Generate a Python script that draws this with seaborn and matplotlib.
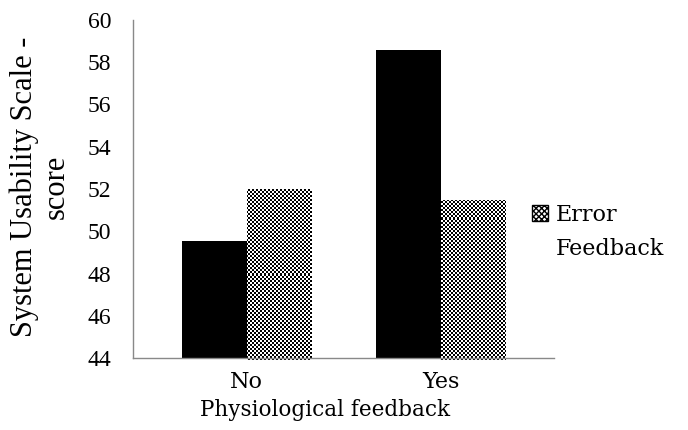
import numpy as np
import pandas as pd
import matplotlib
matplotlib.use("Agg")
import matplotlib.pyplot as plt
from matplotlib.patches import Rectangle
import seaborn as sns

# Mean SUS scores by physiological feedback and error feedback condition
physio_levels = ["No", "Yes"]
error_levels = ["No Error Feedback", "Error Feedback"]
sus_no_error = [49.55, 58.6]
sus_error = [52.0, 51.5]
y_ticks = [44, 46, 48, 50, 52, 54, 56, 58, 60]

df = pd.DataFrame({
    "Physiological feedback": physio_levels * 2,
    "Condition": [error_levels[0]] * 2 + [error_levels[1]] * 2,
    "SUS": sus_no_error + sus_error,
})

sns.set_style("white")
plt.rcParams["text.color"] = "black"
plt.rcParams["xtick.color"] = "black"
plt.rcParams["ytick.color"] = "black"
serif_t = ["Liberation Serif", "DejaVu Serif"]
serif_c = ["DejaVu Serif"]
grey = "#898989"

fig = plt.figure(figsize=(6.88, 4.30), dpi=100)
W, H = 688, 430
ax = fig.add_axes([133 / W, 1 - 358 / H, (554 - 133) / W, (358 - 20) / H])

sns.barplot(data=df, x="Physiological feedback", y="SUS", hue="Condition",
            hue_order=error_levels, order=physio_levels,
            palette=["black", "white"], saturation=1, width=0.668,
            linewidth=0, legend=False, ax=ax)

ax.set_ylim(44, 60)
ax.set_xlim(-0.585, 1.58)
ax.set_yticks(y_ticks)
ax.set_yticklabels([str(t) for t in y_ticks], fontfamily=serif_t, fontsize=17,
                   color="black")
ax.tick_params(axis="y", direction="out", length=4.5, width=1, color=grey, pad=11)
ax.tick_params(axis="x", length=0, pad=9)
for lbl in ax.get_xticklabels():
    lbl.set_fontfamily(serif_c)
    lbl.set_fontsize(16)
    lbl.set_color("black")

for side in ("top", "right"):
    ax.spines[side].set_visible(False)
for side in ("left", "bottom"):
    ax.spines[side].set_color(grey)
    ax.spines[side].set_linewidth(1)
ax.grid(False)

ax.set_ylabel("System Usability Scale -\nscore", fontfamily=serif_t, fontsize=22,
              linespacing=1.1, color="black")
ax.yaxis.set_label_coords(-0.148, 0.507)
ax.set_xlabel("Physiological feedback", fontfamily=serif_c, fontsize=15.5,
              color="black")
ax.xaxis.set_label_coords(0.456, -0.12)

# Fine checkerboard texture (2 px cells, snapped to the pixel grid),
# clipped to each error-feedback bar
fig.canvas.draw()
n_groups = len(physio_levels)
checker_patches = ax.patches[n_groups:2 * n_groups]
y0_lim = ax.get_ylim()[0]
inv = ax.transData.inverted()
for p in checker_patches:
    x0, x1 = p.get_x(), p.get_x() + p.get_width()
    y1 = p.get_y() + p.get_height()
    y0 = max(p.get_y(), y0_lim)
    (px0, py0), (px1, py1) = ax.transData.transform([(x0, y0), (x1, y1)])
    qx0, qy0 = np.floor(px0) - 2, np.floor(py0) - 2
    nx = int(np.ceil((px1 - qx0) / 2)) + 1
    ny = int(np.ceil((py1 - qy0) / 2)) + 1
    qx1, qy1 = qx0 + 2 * nx, qy0 + 2 * ny
    (dx0, dy0), (dx1, dy1) = inv.transform([(qx0, qy0), (qx1, qy1)])
    grid = (np.indices((ny, nx)).sum(axis=0) % 2).astype(float)
    im = ax.imshow(grid, extent=[dx0, dx1, dy0, dy1], cmap="gray", vmin=0, vmax=1,
                   interpolation="nearest", aspect="auto", zorder=p.get_zorder() + 0.1)
    im.set_clip_path(p)
ax.set_xlim(-0.585, 1.58)
ax.set_ylim(44, 60)

# Legend entry for the error-feedback series
sw = Rectangle((532 / W, 1 - 221 / H), 16 / W, 16 / H, transform=fig.transFigure,
               facecolor="white", edgecolor="black", hatch="xxxxxx", linewidth=1)
fig.patches.append(sw)
fig.text(556 / W, 1 - 221 / H, "Error", fontfamily=serif_c, fontsize=16,
         va="baseline", ha="left")
fig.text(556 / W, 1 - 255 / H, "Feedback", fontfamily=serif_c, fontsize=16,
         va="baseline", ha="left")

fig.savefig("out.png", dpi=100)
